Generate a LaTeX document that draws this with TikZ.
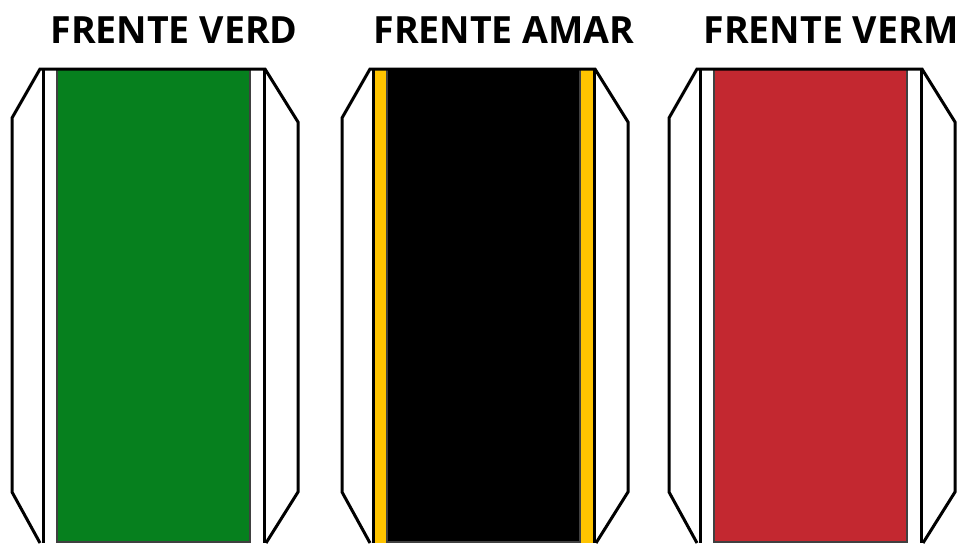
\documentclass[tikz,border=0pt]{standalone}
\usepackage{fontspec}
\setmainfont{Open Sans}
\definecolor{verdeFrente}{RGB}{6,128,30}
\definecolor{amareloFrente}{RGB}{255,196,0}
\definecolor{vermelhoFrente}{RGB}{195,40,48}
\tikzset{
    pneu contorno/.style={
        line width=3pt,
        black,
        line join=miter
    },
    faixa interna/.style={
        line width=3pt,
        black
    },
    banda/.style={
        draw=black!75,
        line width=1.6pt
    },
    titulo/.style={
        font=\fontsize{37.5}{42}\selectfont\bfseries,
        anchor=base,
        inner sep=0pt
    }
}

\begin{document}
\begin{tikzpicture}[x=1pt, y=-1pt]
    \useasboundingbox (0,0) rectangle (960,543);
    \foreach \xo/\cor/\faixa/\nome in {12/verdeFrente/white/VERD, 342/black/amareloFrente/AMAR, 669/vermelhoFrente/white/VERM}{
        \begin{scope}[xshift=\xo pt]
            \coordinate (P1) at (28, 543);
            \coordinate (P2) at (0, 492);
            \coordinate (P3) at (0, 118);
            \coordinate (P4) at (28, 69);
            \coordinate (P5) at (253, 69);
            \coordinate (P6) at (286, 122);
            \coordinate (P7) at (286, 492);
            \coordinate (P8) at (254, 543);

            \fill [\faixa] (31, 69) rectangle (252, 543);
            \draw [banda, fill=\cor] (45, 69) rectangle (238, 542);
            \draw [faixa interna] (31, 69) -- (31, 543) (252, 69) -- (252, 543);
            \draw [pneu contorno] (P1) -- (P2) -- (P3) -- (P4) -- (P5) -- (P6) -- (P7) -- (P8);

            \node [titulo] (titulo\nome) at (162, 43.5) {FRENTE \nome};
        \end{scope}
    }
\end{tikzpicture}
\end{document}
